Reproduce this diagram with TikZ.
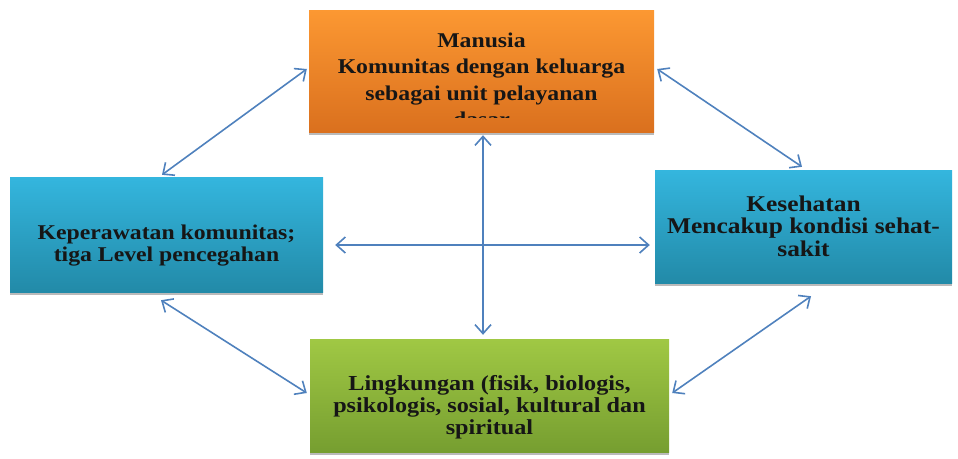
\documentclass[tikz,border=0pt]{standalone}
\usepackage{fontspec}
\setmainfont{Liberation Serif}[FakeStretch=1.13]
\usetikzlibrary{arrows.meta,shadows}
\definecolor{arr}{RGB}{79,129,189}
\definecolor{txtc}{RGB}{22,22,22}
\definecolor{orT}{RGB}{252,152,50}
\definecolor{orB}{RGB}{218,112,30}
\definecolor{blT}{RGB}{52,182,222}
\definecolor{blB}{RGB}{34,138,168}
\definecolor{grT}{RGB}{160,200,68}
\definecolor{grB}{RGB}{118,158,48}
\begin{document}
\begin{tikzpicture}[x=1pt,y=-1pt,
  box/.style={rectangle, inner sep=0pt, draw=none,
    drop shadow={shadow xshift=0pt, shadow yshift=-3pt, opacity=0.45, fill=black!60}},
  txt/.style={align=center, text=txtc, inner sep=0pt},
  link/.style={draw=arr, line width=1.6pt, {Straight Barb[length=9pt,width=16pt,line width=1.6pt]}-{Straight Barb[length=9pt,width=16pt,line width=1.6pt]}}
]
\useasboundingbox (0,0) rectangle (958,458);
% boxes
\node[box, top color=orT, bottom color=orB, minimum width=345pt, minimum height=122pt] (T) at (481.5,71) {};
\node[box, top color=blT, bottom color=blB, minimum width=313pt, minimum height=115pt] (L) at (166.5,234.5) {};
\node[box, top color=blT, bottom color=blB, minimum width=297pt, minimum height=113pt] (R) at (803.5,226.5) {};
\node[box, top color=grT, bottom color=grB, minimum width=359pt, minimum height=113pt] (B) at (489.5,395.5) {};
% texts
\begin{scope}
\clip (300,0) rectangle (660,117);
\node[txt, font=\fontsize{21}{26.5}\selectfont\bfseries] (Tt) at (481.5,80) {Manusia\\Komunitas dengan keluarga\\sebagai unit pelayanan\\dasar};
\end{scope}
\node[txt, font=\fontsize{21}{22}\selectfont\bfseries] (Lt) at (166.5,246) {Keperawatan komunitas;\\tiga Level pencegahan};
\node[txt, font=\fontsize{22.5}{22.5}\selectfont\bfseries] (Rt) at (803.5,226) {Kesehatan\\Mencakup kondisi sehat-\\sakit};
\node[txt, font=\fontsize{21.4}{22}\selectfont\bfseries] (Bt) at (489.5,407) {Lingkungan (fisik, biologis,\\psikologis, sosial, kultural dan\\spiritual};
% connectors
\draw[link] ([xshift=-4.5pt,yshift=2pt]L.north) -- ([xshift=-2pt,yshift=2pt]T.west);
\draw[link] ([xshift=3pt,yshift=2pt]T.east) -- ([xshift=-1.5pt,yshift=3pt]R.north);
\draw[link] ([xshift=-5.5pt,yshift=-8pt]L.south) -- ([xshift=-3pt,yshift=2.5pt]B.west);
\draw[link] ([xshift=3pt,yshift=2.5pt]B.east) -- ([xshift=7.5pt,yshift=-13pt]R.south);
\draw[link] ([xshift=1.5pt,yshift=-3pt]T.south) -- ([xshift=-6.5pt,yshift=4pt]B.north);
\draw[link] ([xshift=12pt,yshift=-10.5pt]L.east) -- ([xshift=-5pt,yshift=-18.5pt]R.west);
\end{tikzpicture}
\end{document}
